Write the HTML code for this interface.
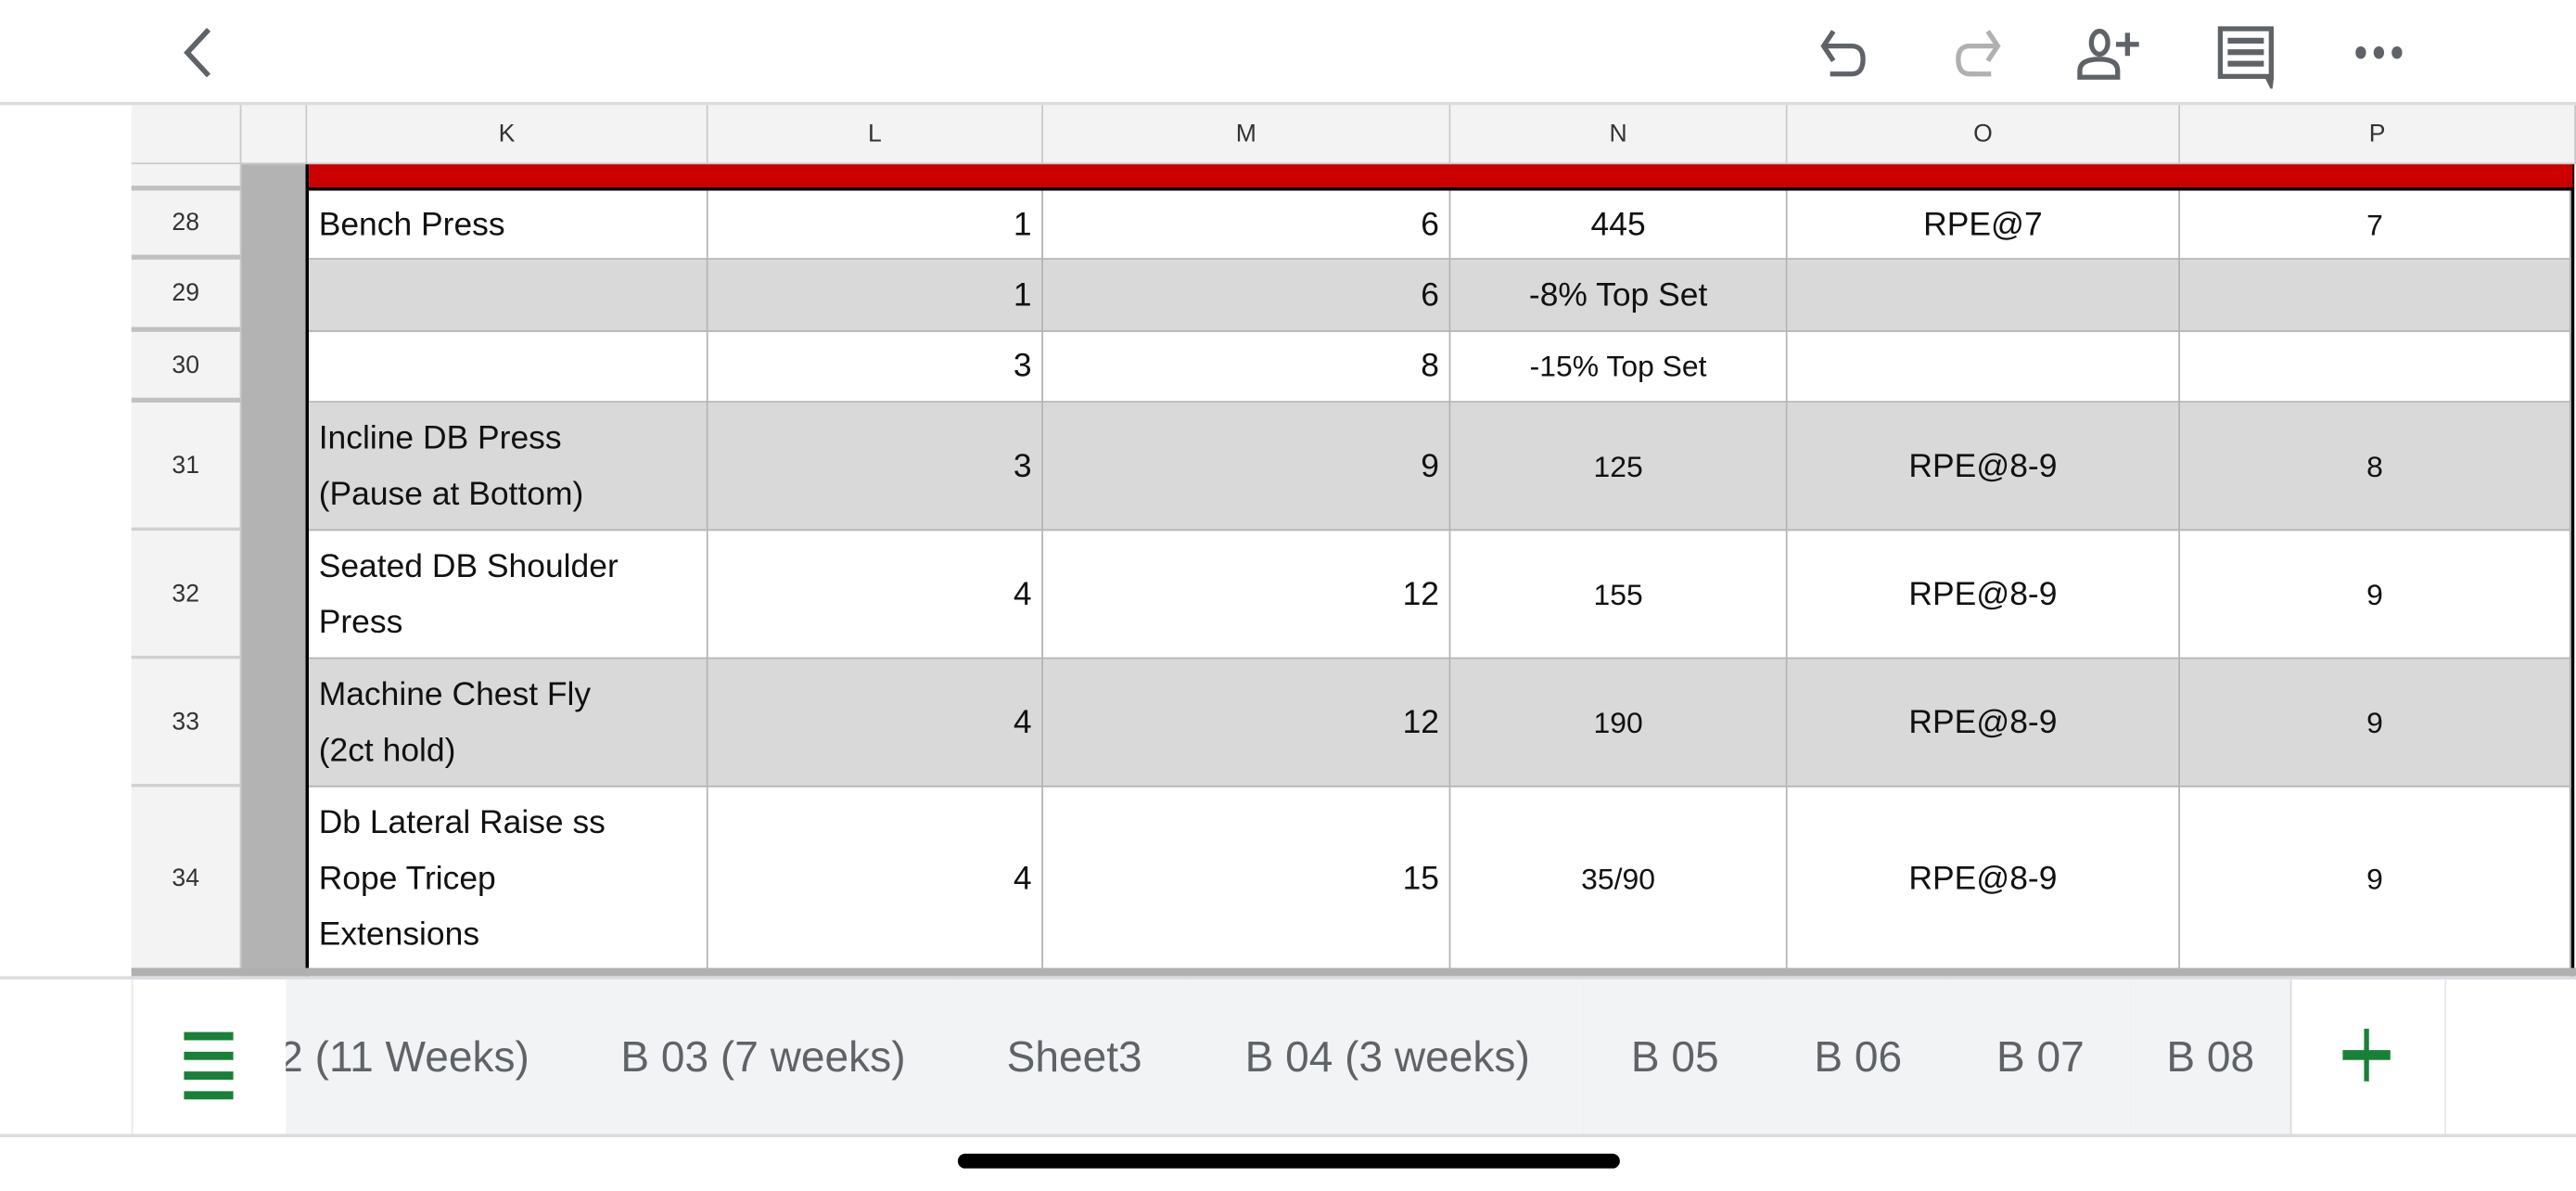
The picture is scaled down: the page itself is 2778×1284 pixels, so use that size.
<!DOCTYPE html>
<html><head><meta charset="utf-8">
<style>
html,body{margin:0;padding:0;background:#fff;overflow:hidden;}
body{width:2778px;height:1284px;position:relative;}
#s{position:absolute;left:0;top:0;width:1568px;height:725px;transform:scale(1.77168);transform-origin:0 0;font-family:"Liberation Sans",sans-serif;}
.a{position:absolute;box-sizing:border-box;}
.c{position:absolute;box-sizing:border-box;border-right:1.5px solid #b4b4b4;border-bottom:1.5px solid #b4b4b4;font-size:20px;color:#111;display:flex;align-items:center;padding:0 6px;line-height:34px;}
.r{justify-content:flex-end;}
.m{justify-content:center;}
.hd{position:absolute;box-sizing:border-box;background:#f3f3f3;border-right:1px solid #c8c8c8;border-bottom:1px solid #c8c8c8;font-size:15px;color:#333;display:flex;align-items:center;justify-content:center;}
.tab{position:absolute;top:596px;height:94px;background:#f1f3f4;border-right:1px solid #dadce0;font-size:26px;color:#5f6368;display:flex;align-items:center;justify-content:center;white-space:nowrap;overflow:hidden;}
</style></head><body><div id="s">
<!-- top bar -->
<svg class="a" style="left:105px;top:14px" width="30" height="36" viewBox="0 0 30 36"><path d="M22 4 L9 18 L22 32" fill="none" stroke="#5f6368" stroke-width="3.2"/></svg>
<svg class="a" style="left:1100px;top:10px" width="400" height="44" viewBox="0 0 400 44">
<g fill="none" stroke="#5f6368" stroke-width="3">
<path d="M16 9 L10 18 L16 27"/><path d="M10 18 H27 Q34 18 34 26 Q34 35 27 35 H14"/>
</g>
<g fill="none" stroke="#b0b0b0" stroke-width="3">
<path d="M110 9 L116 18 L110 27"/><path d="M116 18 H99 Q92 18 92 26 Q92 35 99 35 H112"/>
</g>
<g fill="none" stroke="#5f6368" stroke-width="3">
<ellipse cx="178" cy="16" rx="5" ry="7"/><path d="M166 37 V33 Q166 26 178 26 Q189 26 189 33 V37 Z"/><path d="M188 17 H202 M195 10 V24"/>
</g>
<path d="M250 6 H284 V38 L283 46 L279 38 H250 Z" fill="#5f6368"/><rect x="253" y="9" width="28" height="26" fill="#fff"/>
<g fill="#5f6368"><rect x="256" y="13" width="22" height="3.5"/><rect x="256" y="20" width="22" height="3.5"/><rect x="256" y="27" width="22" height="3.5"/>
<ellipse cx="337" cy="22" rx="3.2" ry="3.8"/><ellipse cx="348" cy="22" rx="3.2" ry="3.8"/><ellipse cx="359" cy="22" rx="3.2" ry="3.8"/></g>
</svg>
<div class="a" style="left:0;top:62px;width:1568px;height:2px;background:#dadce0"></div>
<!-- headers -->
<div class="hd" style="left:80px;top:64px;width:67px;height:36px"></div>
<div class="hd" style="left:147px;top:64px;width:40px;height:36px"></div>
<div class="hd" style="left:187px;top:64px;width:244px;height:36px">K</div>
<div class="hd" style="left:431px;top:64px;width:204px;height:36px">L</div>
<div class="hd" style="left:635px;top:64px;width:248px;height:36px">M</div>
<div class="hd" style="left:883px;top:64px;width:205px;height:36px">N</div>
<div class="hd" style="left:1088px;top:64px;width:239px;height:36px">O</div>
<div class="hd" style="left:1327px;top:64px;width:241px;height:36px">P</div>
<!-- row headers -->
<div class="hd" style="left:80px;top:100px;width:67px;height:16px;border-bottom:3px solid #c0c0c0"></div>
<div class="hd" style="left:80px;top:116px;width:67px;height:42px;border-bottom:3px solid #c0c0c0">28</div>
<div class="hd" style="left:80px;top:158px;width:67px;height:44px;border-bottom:3px solid #c0c0c0">29</div>
<div class="hd" style="left:80px;top:202px;width:67px;height:43px;border-bottom:3px solid #c0c0c0">30</div>
<div class="hd" style="left:80px;top:245px;width:67px;height:78px;border-bottom:2px solid #d0d0d0">31</div>
<div class="hd" style="left:80px;top:323px;width:67px;height:78px;border-bottom:2px solid #d0d0d0">32</div>
<div class="hd" style="left:80px;top:401px;width:67px;height:78px;border-bottom:2px solid #d0d0d0">33</div>
<div class="hd" style="left:80px;top:479px;width:67px;height:113px;border-bottom:3px solid #b0b0b0">34</div>
<div class="a" style="left:147px;top:100px;width:40px;height:494px;background:#b3b3b3"></div>
<div class="a" style="left:186px;top:100px;width:2px;height:494px;background:#000"></div>
<div class="a" style="left:1565px;top:100px;width:2px;height:494px;background:#000"></div>
<div class="a" style="left:188px;top:100px;width:1378px;height:14px;background:#cc0000"></div>
<div class="a" style="left:188px;top:114px;width:1378px;height:2px;background:#000"></div>
<!-- rows -->
<div class="a" style="left:188px;top:116px;width:1378px;height:476px;">
</div>
<div id="g"></div>
<!-- row 28 -->
<div class="c" style="left:188px;top:116px;width:243px;height:42px">Bench Press</div>
<div class="c r" style="left:431px;top:116px;width:204px;height:42px">1</div>
<div class="c r" style="left:635px;top:116px;width:248px;height:42px">6</div>
<div class="c m" style="left:883px;top:116px;width:205px;height:42px">445</div>
<div class="c m" style="left:1088px;top:116px;width:239px;height:42px">RPE@7</div>
<div class="c m" style="left:1327px;top:116px;width:238px;height:42px;font-size:18px">7</div>
<!-- 29 -->
<div class="c" style="left:188px;top:158px;width:243px;height:44px;background:#d9d9d9"></div>
<div class="c r" style="left:431px;top:158px;width:204px;height:44px;background:#d9d9d9">1</div>
<div class="c r" style="left:635px;top:158px;width:248px;height:44px;background:#d9d9d9">6</div>
<div class="c m" style="left:883px;top:158px;width:205px;height:44px;background:#d9d9d9">-8% Top Set</div>
<div class="c m" style="left:1088px;top:158px;width:239px;height:44px;background:#d9d9d9"></div>
<div class="c m" style="left:1327px;top:158px;width:238px;height:44px;background:#d9d9d9"></div>
<!-- 30 -->
<div class="c" style="left:188px;top:202px;width:243px;height:43px"></div>
<div class="c r" style="left:431px;top:202px;width:204px;height:43px">3</div>
<div class="c r" style="left:635px;top:202px;width:248px;height:43px">8</div>
<div class="c m" style="left:883px;top:202px;width:205px;height:43px;font-size:18px">-15% Top Set</div>
<div class="c m" style="left:1088px;top:202px;width:239px;height:43px"></div>
<div class="c m" style="left:1327px;top:202px;width:238px;height:43px"></div>
<!-- 31 -->
<div class="c" style="left:188px;top:245px;width:243px;height:78px;background:#d9d9d9">Incline DB Press<br>(Pause at Bottom)</div>
<div class="c r" style="left:431px;top:245px;width:204px;height:78px;background:#d9d9d9">3</div>
<div class="c r" style="left:635px;top:245px;width:248px;height:78px;background:#d9d9d9">9</div>
<div class="c m" style="left:883px;top:245px;width:205px;height:78px;background:#d9d9d9;font-size:18px">125</div>
<div class="c m" style="left:1088px;top:245px;width:239px;height:78px;background:#d9d9d9">RPE@8-9</div>
<div class="c m" style="left:1327px;top:245px;width:238px;height:78px;background:#d9d9d9;font-size:18px">8</div>
<!-- 32 -->
<div class="c" style="left:188px;top:323px;width:243px;height:78px">Seated DB Shoulder<br>Press</div>
<div class="c r" style="left:431px;top:323px;width:204px;height:78px">4</div>
<div class="c r" style="left:635px;top:323px;width:248px;height:78px">12</div>
<div class="c m" style="left:883px;top:323px;width:205px;height:78px;font-size:18px">155</div>
<div class="c m" style="left:1088px;top:323px;width:239px;height:78px">RPE@8-9</div>
<div class="c m" style="left:1327px;top:323px;width:238px;height:78px;font-size:18px">9</div>
<!-- 33 -->
<div class="c" style="left:188px;top:401px;width:243px;height:78px;background:#d9d9d9">Machine Chest Fly<br>(2ct hold)</div>
<div class="c r" style="left:431px;top:401px;width:204px;height:78px;background:#d9d9d9">4</div>
<div class="c r" style="left:635px;top:401px;width:248px;height:78px;background:#d9d9d9">12</div>
<div class="c m" style="left:883px;top:401px;width:205px;height:78px;background:#d9d9d9;font-size:18px">190</div>
<div class="c m" style="left:1088px;top:401px;width:239px;height:78px;background:#d9d9d9">RPE@8-9</div>
<div class="c m" style="left:1327px;top:401px;width:238px;height:78px;background:#d9d9d9;font-size:18px">9</div>
<!-- 34 -->
<div class="c" style="left:188px;top:479px;width:243px;height:113px">Db Lateral Raise ss<br>Rope Tricep<br>Extensions</div>
<div class="c r" style="left:431px;top:479px;width:204px;height:113px">4</div>
<div class="c r" style="left:635px;top:479px;width:248px;height:113px">15</div>
<div class="c m" style="left:883px;top:479px;width:205px;height:113px;font-size:18px">35/90</div>
<div class="c m" style="left:1088px;top:479px;width:239px;height:113px">RPE@8-9</div>
<div class="c m" style="left:1327px;top:479px;width:238px;height:113px;font-size:18px">9</div>
<div class="a" style="left:80px;top:589px;width:1488px;height:5px;background:#b0b0b0"></div>
<!-- bottom tabs -->
<div class="a" style="left:0;top:594px;width:1568px;height:2px;background:#dadce0"></div>
<div class="a" style="left:0;top:690px;width:1568px;height:2px;background:#dadce0"></div>
<div class="a" style="left:80px;top:596px;width:1px;height:94px;background:#e8e8e8"></div>
<div class="a" style="left:112px;top:628px;width:30px;height:5px;background:#188038;box-shadow:0 12px 0 #188038,0 24px 0 #188038,0 36px 0 #188038"></div>
<div class="tab" style="left:174px;width:172px;justify-content:flex-start;"><span style="margin-left:-4px">2 (11 Weeks)</span></div>
<div class="tab" style="left:346px;width:237px">B 03 (7 weeks)</div>
<div class="tab" style="left:583px;width:142px">Sheet3</div>
<div class="tab" style="left:725px;width:239px">B 04 (3 weeks)</div>
<div class="tab" style="left:964px;width:111px">B 05</div>
<div class="tab" style="left:1075px;width:112px">B 06</div>
<div class="tab" style="left:1187px;width:110px">B 07</div>
<div class="tab" style="left:1297px;width:97px">B 08</div>
<div class="a" style="left:1488px;top:596px;width:1px;height:94px;background:#e8e8e8"></div>
<div class="a" style="left:1439px;top:626px;width:3px;height:32px;background:#188038"></div>
<div class="a" style="left:1426px;top:639px;width:29px;height:6px;background:#188038"></div>
<div class="a" style="left:583px;top:702px;width:403px;height:9px;border-radius:5px;background:#000"></div>
</div></body></html>
